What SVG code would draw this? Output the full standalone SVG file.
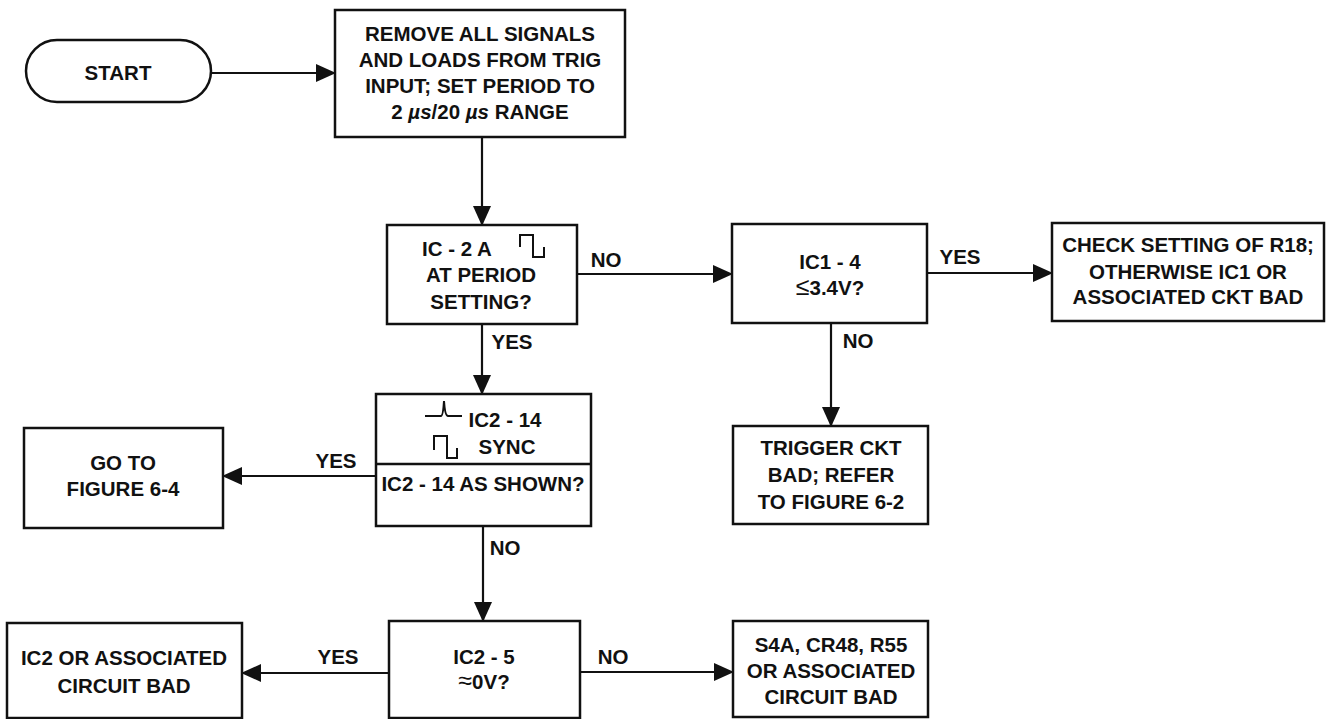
<svg xmlns="http://www.w3.org/2000/svg" width="1329" height="719" viewBox="0 0 1329 719">
<style>
.box{fill:#fff;stroke:#111;stroke-width:2.5}
.ln{fill:none;stroke:#111;stroke-width:2.2}
.sym{fill:none;stroke:#111;stroke-width:2}
text{font-family:"Liberation Sans",Arial,Helvetica,sans-serif;font-size:20.5px;font-weight:bold;fill:#111;text-anchor:middle}
.it{font-style:italic}
.big{font-size:25px;font-weight:normal}
</style>
<defs>
<marker id="ah" markerUnits="userSpaceOnUse" markerWidth="20" markerHeight="18" viewBox="0 0 20 18" refX="19" refY="9" orient="auto">
<path d="M0,0 L20,9 L0,18 z" fill="#111"/>
</marker>
</defs>
<rect width="1329" height="719" fill="#fff"/>
<g id="connectors">
<line class="ln" x1="211" y1="73" x2="335" y2="73" marker-end="url(#ah)"/>
<line class="ln" x1="482" y1="137" x2="482" y2="225" marker-end="url(#ah)"/>
<line class="ln" x1="577" y1="274" x2="732" y2="274" marker-end="url(#ah)"/>
<text x="606" y="267">NO</text>
<line class="ln" x1="927" y1="273" x2="1052" y2="273" marker-end="url(#ah)"/>
<text x="960" y="264">YES</text>
<line class="ln" x1="831" y1="323" x2="831" y2="426" marker-end="url(#ah)"/>
<text x="858" y="348">NO</text>
<line class="ln" x1="482" y1="324" x2="482" y2="394" marker-end="url(#ah)"/>
<text x="512" y="349">YES</text>
<line class="ln" x1="376" y1="476" x2="223" y2="476" marker-end="url(#ah)"/>
<text x="336" y="468">YES</text>
<line class="ln" x1="483" y1="526" x2="483" y2="621" marker-end="url(#ah)"/>
<text x="505" y="555">NO</text>
<line class="ln" x1="389" y1="673" x2="242" y2="673" marker-end="url(#ah)"/>
<text x="338" y="664">YES</text>
<line class="ln" x1="580" y1="672" x2="733" y2="672" marker-end="url(#ah)"/>
<text x="613" y="664">NO</text>
</g>
<g id="start">
<rect class="box" x="26" y="40" width="185" height="62" rx="31" ry="31"/>
<text x="118" y="80">START</text>
</g>
<g id="remove">
<rect class="box" x="335" y="10" width="290" height="127"/>
<text x="480" y="41">REMOVE ALL SIGNALS</text>
<text x="480" y="67">AND LOADS FROM TRIG</text>
<text x="480" y="93">INPUT; SET PERIOD TO</text>
<text x="480" y="119">2 <tspan class="it">µs</tspan>/20 <tspan class="it">µs</tspan> RANGE</text>
</g>
<g id="ic2a">
<rect class="box" x="387" y="225" width="190" height="99"/>
<text x="457" y="256">IC - 2 A</text>
<path class="sym" d="M520,247 V235 H533 V257 H544 V247"/>
<text x="481" y="282">AT PERIOD</text>
<text x="481" y="309">SETTING?</text>
</g>
<g id="ic14">
<rect class="box" x="732" y="224" width="195" height="99"/>
<text x="830" y="269">IC1 - 4</text>
<text x="830" y="295"><tspan class="big">≤</tspan>3.4V?</text>
</g>
<g id="check">
<rect class="box" x="1052" y="223" width="272" height="98"/>
<text x="1188" y="252">CHECK SETTING OF R18;</text>
<text x="1188" y="279">OTHERWISE IC1 OR</text>
<text x="1188" y="304">ASSOCIATED CKT BAD</text>
</g>
<g id="trigger">
<rect class="box" x="733" y="426" width="195" height="98"/>
<text x="831" y="455">TRIGGER CKT</text>
<text x="831" y="482">BAD; REFER</text>
<text x="831" y="509">TO FIGURE 6-2</text>
</g>
<g id="sync">
<rect class="box" x="376" y="394" width="215" height="132"/>
<line class="box" x1="376" y1="464" x2="591" y2="464"/>
<path class="sym" d="M425,416 H441 Q443,416 444,401 Q445,416 448,416 H462"/>
<text x="505" y="427">IC2 - 14</text>
<path class="sym" d="M434,450 V436 H447 V458 H457 V448"/>
<text x="507" y="454">SYNC</text>
<text x="483" y="491">IC2 - 14 AS SHOWN?</text>
</g>
<g id="goto">
<rect class="box" x="24" y="428" width="199" height="100"/>
<text x="123" y="470">GO TO</text>
<text x="123" y="496">FIGURE 6-4</text>
</g>
<g id="ic25">
<rect class="box" x="389" y="621" width="191" height="97"/>
<text x="484" y="664">IC2 - 5</text>
<text x="484" y="689"><tspan class="big">≈</tspan>0V?</text>
</g>
<g id="ic2bad">
<rect class="box" x="7" y="623" width="235" height="95"/>
<text x="124" y="665">IC2 OR ASSOCIATED</text>
<text x="124" y="693">CIRCUIT BAD</text>
</g>
<g id="s4a">
<rect class="box" x="733" y="621" width="195" height="96"/>
<text x="831" y="652">S4A, CR48, R55</text>
<text x="831" y="678">OR ASSOCIATED</text>
<text x="831" y="704">CIRCUIT BAD</text>
</g>
</svg>
